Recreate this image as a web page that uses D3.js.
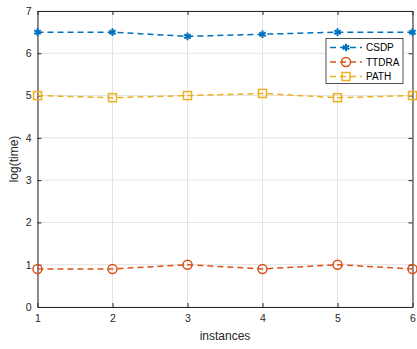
<!DOCTYPE html>
<html><head><meta charset="utf-8">
<script src="https://cdn.jsdelivr.net/npm/d3@7"></script>
<style>body{margin:0;background:#fff}svg{display:block}text{font-family:"Liberation Sans",Arial,sans-serif}</style>
</head><body>
<script>
const instances = [1,2,3,4,5,6];
const csdp  = [6.5, 6.5, 6.4, 6.45, 6.5, 6.5];
const ttdra = [0.9, 0.9, 1.0, 0.9, 1.0, 0.9];
const path  = [5.0, 4.95, 5.0, 5.05, 4.95, 5.0];
const seriesNames = ["CSDP","TTDRA","PATH"];
const colors = ["#0072BD","#D95319","#EDB120"];
const yTicks = [0,1,2,3,4,5,6,7];

const W=417,H=349;
const m={l:37.5,r:4.5,t:11,b:42};
const svg=d3.select("body").append("svg").attr("width",W).attr("height",H);
const x=d3.scaleLinear().domain([1,6]).range([m.l,W-m.r]);
const y=d3.scaleLinear().domain([0,7]).range([H-m.b,m.t]);

// grid
const g=svg.append("g");
g.selectAll(".gx").data(instances).enter().append("line")
 .attr("x1",d=>x(d)).attr("x2",d=>x(d)).attr("y1",y(0)).attr("y2",y(7))
 .attr("stroke","#e3e3e3").attr("stroke-width",1);
g.selectAll(".gy").data(yTicks).enter().append("line")
 .attr("y1",d=>y(d)).attr("y2",d=>y(d)).attr("x1",x(1)).attr("x2",x(6))
 .attr("stroke","#e3e3e3").attr("stroke-width",1);

// axes
const xa=svg.append("g").attr("transform",`translate(0,${y(0)})`)
 .call(d3.axisBottom(x).tickValues(instances).tickFormat(d3.format("d")).tickSizeInner(-4).tickSizeOuter(0).tickPadding(8));
const ya=svg.append("g").attr("transform",`translate(${x(1)},0)`)
 .call(d3.axisLeft(y).tickValues(yTicks).tickFormat(d3.format("d")).tickSizeInner(-4).tickSizeOuter(0).tickPadding(6));
[xa,ya].forEach(a=>{a.selectAll("text").attr("font-size",10.5).attr("fill","#262626");
 a.selectAll("line").attr("stroke","#262626");a.select(".domain").attr("stroke","#262626");});
// top/right ticks & box
svg.append("g").attr("transform",`translate(0,${y(7)})`)
 .call(d3.axisTop(x).tickValues(instances).tickFormat("").tickSizeInner(-4).tickSizeOuter(0))
 .call(a=>{a.selectAll("line,path").attr("stroke","#262626");});
svg.append("g").attr("transform",`translate(${x(6)},0)`)
 .call(d3.axisRight(y).tickValues(yTicks).tickFormat("").tickSizeInner(-4).tickSizeOuter(0))
 .call(a=>{a.selectAll("line,path").attr("stroke","#262626");});

svg.append("text").attr("x",(x(1)+x(6))/2).attr("y",340).attr("text-anchor","middle")
 .attr("font-size",12).attr("fill","#262626").text("instances");
svg.append("text").attr("transform",`translate(18,${(y(0)+y(7))/2}) rotate(-90)`).attr("text-anchor","middle")
 .attr("font-size",12).attr("fill","#262626").text("log(time)");

const data=[csdp,ttdra,path];
const line=d3.line().x((d,i)=>x(instances[i])).y(d=>y(d));
const star=d3.symbol().type(d3.symbolAsterisk).size(40);
function marker(sel,k,cx,cy){
 if(k===0){sel.append("path").attr("d",star).attr("transform",`translate(${cx},${cy})`).attr("stroke",colors[0]).attr("stroke-width",2).attr("fill","none");}
 else if(k===1){sel.append("circle").attr("cx",cx).attr("cy",cy).attr("r",4.5).attr("fill","none").attr("stroke",colors[1]).attr("stroke-width",1.5);}
 else {sel.append("rect").attr("x",cx-4).attr("y",cy-4).attr("width",8).attr("height",8).attr("fill","none").attr("stroke",colors[2]).attr("stroke-width",1.5);}
}
data.forEach((s,k)=>{
 svg.append("path").datum(s).attr("d",line).attr("fill","none").attr("stroke",colors[k])
  .attr("stroke-width",1.5).attr("stroke-dasharray","6,4");
 const mg=svg.append("g");
 s.forEach((v,i)=>marker(mg,k,x(instances[i]),y(v)));
});

// legend
const lg=svg.append("g");
lg.append("rect").attr("x",326).attr("y",38.5).attr("width",77).attr("height",45).attr("fill","#fff").attr("stroke","#262626").attr("stroke-width",0.8);
seriesNames.forEach((n,k)=>{
 const yy=47.5+k*14.5;
 lg.append("line").attr("x1",330).attr("x2",362).attr("y1",yy).attr("y2",yy).attr("stroke",colors[k]).attr("stroke-width",1.5).attr("stroke-dasharray","6,4");
 marker(lg,k,346,yy);
 lg.append("text").attr("x",366).attr("y",yy+3.8).attr("font-size",10).attr("fill","#000").text(n);
});
</script>
</body></html>
